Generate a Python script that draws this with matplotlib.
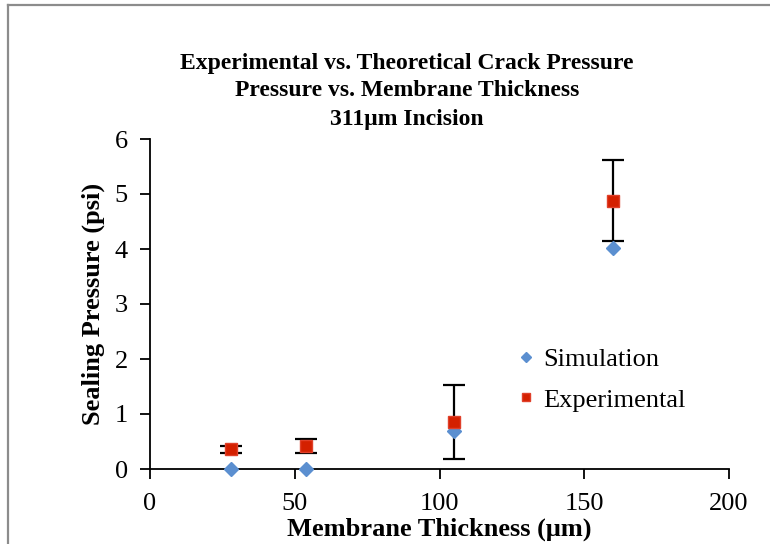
import matplotlib
matplotlib.use("Agg")
import matplotlib.pyplot as plt
from matplotlib.lines import Line2D

thickness_sim = [28, 54, 105, 160]
pressure_sim = [0.0, 0.0, 0.70, 4.02]
thickness_exp = [28, 54, 105, 160]
pressure_exp = [0.36, 0.42, 0.85, 4.88]
err_exp = [0.06, 0.12, 0.67, 0.73]

title_lines = ["Experimental vs. Theoretical Crack Pressure",
               "Pressure vs. Membrane Thickness",
               "311\u03bcm Incision"]
xticks = [0, 50, 100, 150, 200]
yticks = [0, 1, 2, 3, 4, 5, 6]

plt.rcParams['font.family'] = ['Liberation Serif', 'DejaVu Serif']

fig = plt.figure(figsize=(7.7, 5.44), dpi=100)
ax = fig.add_axes([150/770, 1-469/544, (729-150)/770, (469-139)/544])

ax.errorbar(thickness_exp, pressure_exp, yerr=err_exp, fmt='none', ecolor='black',
            elinewidth=1.6, capsize=8, capthick=1.6, zorder=2)
ax.plot(thickness_sim, pressure_sim, linestyle='none', marker='D', markersize=7,
        color='#5b8fd0', markeredgecolor='#5b8fd0', label='Simulation', zorder=3, clip_on=False)
ax.plot(thickness_exp, pressure_exp, linestyle='none', marker='s', markersize=8,
        color='#d42000', markeredgecolor='#e0402a', label='Experimental', zorder=4)

ax.set_xlim(0, 200)
ax.set_ylim(0, 6)
ax.set_xticks(xticks)
ax.set_yticks(yticks)
ax.tick_params(axis='both', direction='out', length=7, width=1.3, labelsize=19, colors='black')
ax.tick_params(axis='x', pad=10)
ax.tick_params(axis='y', pad=9)
for s in ['top', 'right']:
    ax.spines[s].set_visible(False)
for s in ['left', 'bottom']:
    ax.spines[s].set_linewidth(1.3)

ax.set_xlabel('Membrane Thickness (\u03bcm)', fontsize=19, fontweight='bold', labelpad=2)
ax.set_ylabel('Sealing Pressure (psi)', fontsize=19, fontweight='bold', labelpad=7)

leg = ax.legend(loc='upper left', bbox_to_anchor=(0.62, 0.40), frameon=False, fontsize=19,
                handlelength=0.5, handletextpad=0.4, labelspacing=0.65, borderaxespad=0,
                markerscale=0.8)

for i, (t, y) in enumerate(zip(title_lines, [62, 88, 117])):
    fig.text(407/770, 1-(y+2)/544, t, ha='center', va='center', fontsize=17, fontweight='bold')

fig.add_artist(Line2D([8/770, 8/770], [0, 1-5/544], transform=fig.transFigure,
                      color='#8c8c8c', linewidth=1.6))
fig.add_artist(Line2D([8/770, 1], [1-5/544, 1-5/544], transform=fig.transFigure,
                      color='#8c8c8c', linewidth=1.6))

fig.savefig('out.png', dpi=100)
